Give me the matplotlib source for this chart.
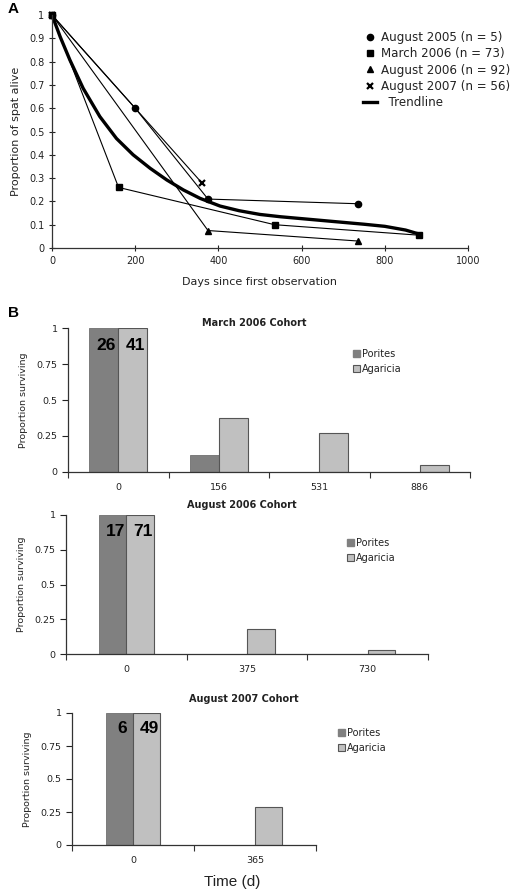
import matplotlib
matplotlib.use("Agg")
import matplotlib.pyplot as plt
from matplotlib.patches import Patch
from matplotlib.lines import Line2D
import numpy as np

# ---- Panel A: survival of spat per cohort ----
aug05_days = [0, 200, 375, 735]
aug05_alive = [1.0, 0.60, 0.21, 0.19]
mar06_days = [0, 160, 535, 882]
mar06_alive = [1.0, 0.26, 0.10, 0.055]
aug06_days = [0, 375, 735]
aug06_alive = [1.0, 0.075, 0.03]
aug07_days = [0, 360]
aug07_alive = [1.0, 0.28]
trend_days = [0, 20, 43, 75, 115, 155, 195, 236, 276, 316, 356, 404, 450, 500, 550,
              600, 650, 700, 750, 800, 850, 882]
trend_alive = [1.0, 0.905, 0.807, 0.685, 0.564, 0.47, 0.40, 0.342, 0.292, 0.249, 0.213,
               0.18, 0.16, 0.144, 0.134, 0.126, 0.118, 0.11, 0.102, 0.093, 0.077, 0.06]

# ---- Panel B: proportion surviving per genus ----
mar06_times = ["0", "156", "531", "886"]
mar06_porites = [1.0, 0.115, 0.0, 0.0]
mar06_agaricia = [1.0, 0.375, 0.27, 0.05]
mar06_n = ["26", "41"]

aug06_times = ["0", "375", "730"]
aug06_porites = [1.0, 0.0, 0.0]
aug06_agaricia = [1.0, 0.18, 0.03]
aug06_n = ["17", "71"]

aug07_times = ["0", "365"]
aug07_porites = [1.0, 0.0]
aug07_agaricia = [1.0, 0.29]
aug07_n = ["6", "49"]

W, H = 522, 893
PORITES = "#808080"
AGARICIA = "#c0c0c0"
TXT = "#222222"


def px_axes(fig, left, right, top, bottom):
    return fig.add_axes([left / W, 1 - bottom / H, (right - left) / W, (bottom - top) / H])


def style(ax):
    ax.spines['top'].set_visible(False)
    ax.spines['right'].set_visible(False)
    for s in ("left", "bottom"):
        ax.spines[s].set_color("#333333")
        ax.spines[s].set_linewidth(0.9)


fig = plt.figure(figsize=(W / 100, H / 100), dpi=100)

# Panel A
ax = px_axes(fig, 52, 468, 15, 248)
style(ax)
lw = 0.8
ax.plot(aug05_days, aug05_alive, "-o", color="black", lw=lw, ms=4.5)
ax.plot(mar06_days, mar06_alive, "-s", color="black", lw=lw, ms=4.5)
ax.plot(aug06_days, aug06_alive, "-^", color="black", lw=lw, ms=5)
ax.plot(aug07_days, aug07_alive, "-x", color="black", lw=lw, ms=5, mew=1.6)
ax.plot(trend_days, trend_alive, "-", color="black", lw=2.4, solid_joinstyle="round")
ax.set_xlim(0, 1000)
ax.set_ylim(0, 1)
ax.set_xticks(np.arange(0, 1001, 200))
ax.set_yticks(np.arange(0, 1.01, 0.1))
ax.set_yticklabels(["0"] + [f"{v:.1f}" for v in np.arange(0.1, 0.95, 0.1)] + ["1"])
ax.tick_params(labelsize=7, colors=TXT, direction="inout", length=4, width=0.8)
ax.set_xlabel("Days since first observation", fontsize=8, color=TXT, labelpad=8)
ax.set_ylabel("Proportion of spat alive", fontsize=8, color=TXT, labelpad=6)
for ln in ax.lines:
    ln.set_clip_on(False)

handles = [
    Line2D([], [], ls="none", marker="o", color="black", ms=4.5),
    Line2D([], [], ls="none", marker="s", color="black", ms=4.5),
    Line2D([], [], ls="none", marker="^", color="black", ms=5),
    Line2D([], [], ls="none", marker="x", color="black", ms=5, mew=1.6),
    Line2D([], [], color="black", lw=2.4),
]
labels = ["August 2005 (n = 5)", "March 2006 (n = 73)", "August 2006 (n = 92)",
          "August 2007 (n = 56)", "  Trendline"]
fig.legend(handles, labels, loc="upper left", bbox_to_anchor=(357 / W, 1 - 25 / H),
           frameon=False, fontsize=8.6, handlelength=1.2, handletextpad=0.3,
           labelspacing=0.28, borderpad=0, labelcolor=TXT)

fig.text(8 / W, 1 - 9 / H, "A", fontsize=11, fontweight="bold", family="Liberation Sans",
         ha="left", va="center")
fig.text(8 / W, 1 - 313 / H, "B", fontsize=11, fontweight="bold", family="Liberation Sans",
         ha="left", va="center")


def cohort(box, times, porites, agaricia, nlabels, width, title, title_xy, leg_xy):
    ax = px_axes(fig, *box)
    style(ax)
    x = np.arange(len(times))
    ax.bar(x - width / 2, porites, width, color=PORITES, edgecolor="#707070", lw=0.6)
    ax.bar(x + width / 2, agaricia, width, color=AGARICIA, edgecolor="#555555", lw=0.8)
    ax.set_xlim(-0.5, len(times) - 0.5)
    ax.set_ylim(0, 1)
    ax.set_xticks(x)
    ax.set_xticklabels(times)
    ax.set_xticks(np.arange(len(times) + 1) - 0.5, minor=True)
    ax.tick_params(axis="x", which="major", length=0, pad=8)
    ax.tick_params(axis="x", which="minor", length=4, width=0.8, direction="out", color="#333333")
    ax.set_yticks([0, 0.25, 0.5, 0.75, 1])
    ax.set_yticklabels(["0", "0.25", "0.5", "0.75", "1"])
    ax.tick_params(axis="y", length=4, width=0.8, direction="out")
    ax.tick_params(labelsize=6.8, colors=TXT)
    ax.set_ylabel("Proportion surviving", fontsize=6.8, color=TXT, labelpad=6)
    for dx, lab in zip((-width / 2, width / 2), nlabels):
        ax.annotate(lab, (x[0] + dx, 0.88), xytext=(2, 0), textcoords="offset points",
                    ha="center", va="center", fontsize=12.5, fontweight="bold",
                    family="Liberation Sans", color="black")
    fig.text(title_xy[0] / W, 1 - title_xy[1] / H, title, fontsize=7, fontweight="bold",
             ha="center", va="center", color=TXT)
    hs = [Patch(facecolor=PORITES, edgecolor=PORITES),
          Patch(facecolor=AGARICIA, edgecolor="#555555", lw=0.8)]
    fig.legend(hs, ["Porites", "Agaricia"], loc="upper left",
               bbox_to_anchor=(leg_xy[0] / W, 1 - leg_xy[1] / H), frameon=False,
               fontsize=7, handlelength=0.7, handleheight=0.7, handletextpad=0.2,
               labelspacing=0.55, borderpad=0, labelcolor=TXT)
    return ax


cohort((68, 470, 328, 472), mar06_times, mar06_porites, mar06_agaricia, mar06_n,
       0.29, "March 2006 Cohort", (254, 323), (348, 344))
cohort((66, 428, 515, 654), aug06_times, aug06_porites, aug06_agaricia, aug06_n,
       0.23, "August 2006 Cohort", (242, 505), (342, 533))
cohort((72, 316, 713, 845), aug07_times, aug07_porites, aug07_agaricia, aug07_n,
       0.22, "August 2007 Cohort", (244, 699), (333, 723))

fig.text(232 / W, 1 - 882 / H, "Time (d)", fontsize=11, family="Liberation Sans",
         ha="center", va="center", color=TXT)

fig.savefig("out.png", dpi=100)
